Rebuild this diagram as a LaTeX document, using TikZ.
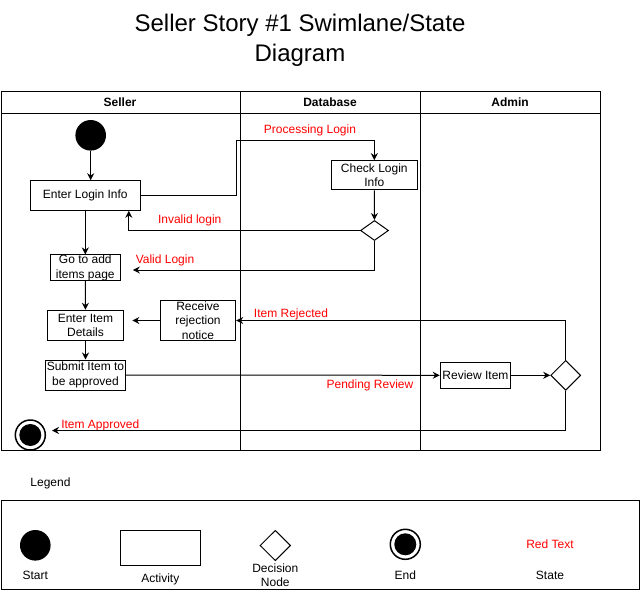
\documentclass[tikz,border=0pt]{standalone}
\usepackage{fontspec}
\setmainfont{Liberation Sans}
\usetikzlibrary{shapes.geometric,arrows.meta}
\definecolor{statered}{RGB}{255,0,0}
\begin{document}
\begin{tikzpicture}[x=1pt,y=-1pt,
  every node/.style={font=\fontsize{12}{14.4}\selectfont, inner sep=0pt},
  box/.style={draw, line width=1pt, rectangle, align=center},
  dec/.style={draw, line width=1pt, diamond, minimum width=28pt, minimum height=20pt},
  lane/.style={line width=1pt},
  conn/.style={line width=1pt, -{Stealth[length=7pt,width=7pt]}},
  st/.style={text=statered},
  hdr/.style={font=\fontsize{12}{14.4}\selectfont\bfseries},
  startdot/.style={circle, fill=black, minimum size=30.6pt},
  enddot/.style={circle, draw, line width=1.5pt, minimum size=30pt}
]
\useasboundingbox (0,0) rectangle (641,595);

% title
\node[font=\fontsize{24}{30}\selectfont, align=center] (title) at (300,40.5) {Seller Story \#1 Swimlane/State\\Diagram};

% swimlanes
\draw[lane] (1,91) rectangle (600.5,450);
\draw[lane] (1,113) -- (600.5,113);
\draw[lane] (240.5,91) -- (240.5,450);
\draw[lane] (420.5,91) -- (420.5,450);
\node[hdr] (hseller) at (120,102.5) {Seller};
\node[hdr] (hdb) at (330,102.5) {Database};
\node[hdr] (hadmin) at (510,102.5) {Admin};

% nodes
\node[startdot] (start) at (90.7,135.3) {};
\node[box, minimum width=110pt, minimum height=29.6pt] (login) at (85.3,195.5) {Enter Login Info};
\node[box, minimum width=86pt, minimum height=29.3pt] (check) at (374.3,175.3) {Check Login\\Info};
\node[dec] (d1) at (374.5,230.5) {};
\node[box, minimum width=70pt, minimum height=25.3pt] (goto) at (85.3,267.7) {Go to add\\items page};
\node[box, minimum width=75.6pt, minimum height=30.4pt] (item) at (85.5,325.5) {Enter Item\\Details};
\node[box, minimum width=80.4pt, minimum height=30pt] (submit) at (85.5,375) {Submit Item to\\be approved};
\node[box, minimum width=75.4pt, minimum height=40.4pt] (recv) at (198,320.5) {Receive\\rejection\\notice};
\node[box, minimum width=70.4pt, minimum height=26pt] (review) at (475.5,375.3) {Review Item};
\node[dec, minimum width=30pt, minimum height=30pt] (d2) at (565.7,375.3) {};
\node[enddot] (end) at (30.3,435) {};
\fill (end.center) circle (11);

% state labels
\node[st] (lproc) at (310,130.5) {Processing Login};
\node[st] (linv) at (189.7,220) {Invalid login};
\node[st] (lval) at (165,260) {Valid Login};
\node[st] (lrej) at (291,314.8) {Item Rejected};
\node[st] (lpend) at (370,385.5) {Pending Review};
\node[st] (lapp) at (100.3,425) {Item Approved};

% connectors
\coordinate (pl) at (236,140.5);
\coordinate (endtip) at (52,430.5);
\draw[conn] (start.south) -- (start.south |- login.north);
\draw[line width=1pt] (login.east) -| (pl);
\draw[conn] (pl) -| (check.north);
\draw[conn] (check) -- (d1);
\draw[conn] (d1.west) -| ([xshift=-12pt]login.south east);
\draw[conn, shorten >=12pt] (d1.south) |- ([yshift=-2.3pt]goto.east);
\draw[conn] (login) -- (goto);
\draw[conn] (goto) -- (item);
\draw[conn] (item) -- (submit);
\draw[conn, shorten >=8.5pt] (recv.west) -- (recv.west -| item.east);
\draw[conn] (d2.north) |- (recv.east);
\draw[conn] (submit.east) -- (review.west);
\draw[conn] (review.east) -- (d2.west);
\draw[conn] (d2.south) |- (endtip);

% legend
\node (legt) at (50.5,483.8) {Legend};
\draw[lane] (1,500.7) rectangle (639.5,589);
\node[startdot] (lgstart) at (35.3,545.3) {};
\node (lgstartt) at (35.3,575.2) {Start};
\node[box, minimum width=80pt, minimum height=35pt] (lgact) at (160.3,547.8) {};
\node (lgactt) at (160.3,579.8) {Activity};
\node[dec, minimum width=30.6pt, minimum height=30.4pt] (lgdec) at (275.3,545.5) {};
\node[align=center] (lgdect) at (275.3,575.5) {Decision\\Node};
\node[enddot] (lgend) at (405.3,544.3) {};
\fill (lgend.center) circle (11);
\node (lgendt) at (405.3,575.2) {End};
\node[st] (lgred) at (550,544.5) {Red Text};
\node (lgstate) at (550,575.2) {State};
\end{tikzpicture}
\end{document}
